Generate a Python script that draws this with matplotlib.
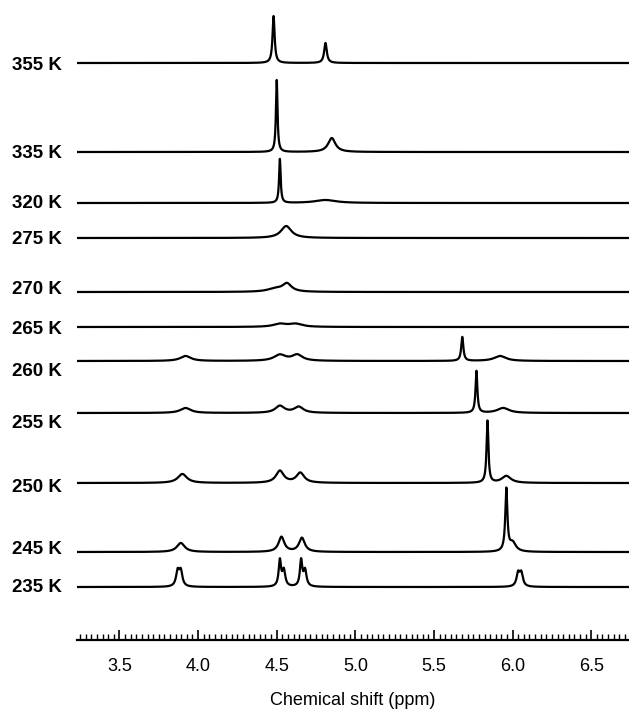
import matplotlib.pyplot as plt
import matplotlib.transforms as mtransforms
from matplotlib.ticker import MultipleLocator
import numpy as np

plt.rcParams['font.family'] = ['Liberation Sans', 'DejaVu Sans']

# temperatures, top to bottom
temps = ['355 K', '335 K', '320 K', '275 K', '270 K', '265 K',
         '260 K', '255 K', '250 K', '245 K', '235 K']

# peaks: centre (ppm), height, half width (ppm)
peaks = {
    '355 K': [(4.48, 47, 0.008), (4.81, 20, 0.010)],
    '335 K': [(4.50, 72, 0.006), (4.85, 14, 0.028)],
    '320 K': [(4.52, 44, 0.006), (4.81, 3, 0.08)],
    '275 K': [(4.56, 12, 0.04)],
    '270 K': [(4.565, 8, 0.035), (4.49, 3, 0.06)],
    '265 K': [(4.52, 3, 0.05), (4.62, 3, 0.05)],
    '260 K': [(3.92, 5, 0.04), (4.52, 6, 0.045), (4.63, 6, 0.04),
              (5.68, 24, 0.008), (5.92, 5, 0.045)],
    '255 K': [(3.92, 5, 0.04), (4.52, 7, 0.035), (4.64, 6, 0.035),
              (5.77, 42, 0.007), (5.94, 5, 0.045)],
    '250 K': [(3.90, 9, 0.035), (4.52, 12, 0.03), (4.65, 10, 0.03),
              (5.84, 62, 0.007), (5.96, 7, 0.035)],
    '245 K': [(3.89, 9, 0.03), (4.53, 15, 0.022), (4.66, 14, 0.022),
              (5.96, 62, 0.008), (6.00, 9, 0.025)],
    '235 K': [(3.87, 15, 0.012), (3.89, 15, 0.012),
              (4.52, 26, 0.009), (4.545, 16, 0.011),
              (4.655, 26, 0.009), (4.68, 16, 0.011),
              (6.035, 13, 0.012), (6.055, 13, 0.012)],
}

# vertical stacking of the traces and their labels (pixels from top)
base_px = [63, 152, 203, 238, 292, 327, 361, 413, 483, 552, 587]
label_px = [65, 153, 204, 240, 289, 329, 372, 423, 487, 549, 587]
axis_px = 640

x = np.linspace(3.23, 6.74, 5000)

fig = plt.figure(figsize=(6.29, 7.15), dpi=100)
ax = fig.add_axes([77 / 629, (715 - axis_px) / 715, 1 - 77 / 629, 630 / 715])

trans = mtransforms.blended_transform_factory(fig.transFigure, ax.transData)
for t, b, lp in zip(temps, base_px, label_px):
    y = np.zeros_like(x)
    for c, h, w in peaks[t]:
        y += h * w**2 / ((x - c)**2 + w**2)
    ax.plot(x, y + axis_px - b, color='black', lw=1.6)
    ax.text(62 / 629, axis_px - lp, t, transform=trans, ha='right', va='center',
            fontsize=13.5, fontweight='bold')

ax.set_xlim(3.23, 6.74)
ax.set_ylim(0, 630)
for s in ['left', 'top', 'right']:
    ax.spines[s].set_visible(False)
ax.spines['bottom'].set_linewidth(1.6)
ax.set_yticks([])
ax.set_xticks(np.arange(3.5, 6.51, 0.5))
ax.xaxis.set_minor_locator(MultipleLocator(0.5 / 14))
ax.tick_params(axis='x', which='major', direction='in', length=7, width=1.2,
               labelsize=13, pad=13)
ax.tick_params(axis='x', which='minor', direction='in', length=4, width=1)
ax.set_xlabel('Chemical shift (ppm)', fontsize=13, labelpad=12)

plt.savefig('out.png', dpi=100)
